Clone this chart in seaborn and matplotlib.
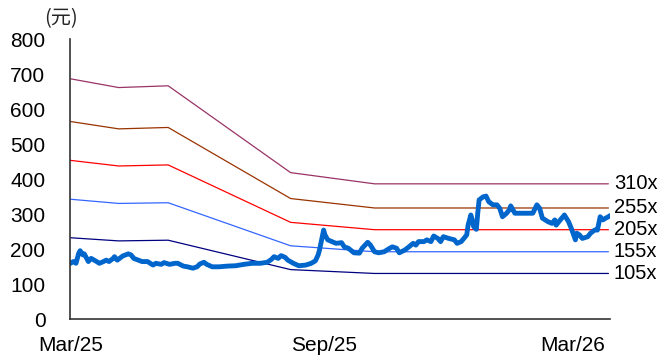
import matplotlib
matplotlib.use("Agg")
import matplotlib.pyplot as plt
import pandas as pd
import seaborn as sns

# Share price (CNY)
price_dates = [
    "2025-03-01", "2025-03-03", "2025-03-05", "2025-03-07", "2025-03-08", "2025-03-10",
    "2025-03-11", "2025-03-14", "2025-03-16", "2025-03-20", "2025-03-22", "2025-03-25",
    "2025-03-27", "2025-03-29", "2025-04-01", "2025-04-02", "2025-04-04", "2025-04-08",
    "2025-04-12", "2025-04-14", "2025-04-16", "2025-04-18", "2025-04-22", "2025-04-26",
    "2025-04-30", "2025-05-02", "2025-05-06", "2025-05-08", "2025-05-12", "2025-05-16",
    "2025-05-18", "2025-05-22", "2025-05-25", "2025-05-29", "2025-06-01", "2025-06-03",
    "2025-06-06", "2025-06-08", "2025-06-12", "2025-06-17", "2025-06-23", "2025-06-29",
    "2025-07-05", "2025-07-11", "2025-07-17", "2025-07-22", "2025-07-25", "2025-07-27",
    "2025-07-30", "2025-08-01", "2025-08-04", "2025-08-06", "2025-08-10", "2025-08-14",
    "2025-08-19", "2025-08-23", "2025-08-26", "2025-08-28", "2025-08-29", "2025-08-31",
    "2025-09-01", "2025-09-02", "2025-09-04", "2025-09-07", "2025-09-10", "2025-09-14",
    "2025-09-16", "2025-09-19", "2025-09-23", "2025-09-27", "2025-09-29", "2025-10-03",
    "2025-10-05", "2025-10-08", "2025-10-11", "2025-10-15", "2025-10-19", "2025-10-21",
    "2025-10-24", "2025-10-26", "2025-10-30", "2025-11-02", "2025-11-05", "2025-11-07",
    "2025-11-09", "2025-11-13", "2025-11-15", "2025-11-18", "2025-11-20", "2025-11-23",
    "2025-11-25", "2025-11-27", "2025-12-01", "2025-12-05", "2025-12-07", "2025-12-10",
    "2025-12-14", "2025-12-15", "2025-12-17", "2025-12-18", "2025-12-19", "2025-12-21",
    "2025-12-22", "2025-12-23", "2025-12-26", "2025-12-28", "2025-12-30", "2026-01-02",
    "2026-01-05", "2026-01-07", "2026-01-09", "2026-01-12", "2026-01-14", "2026-01-15",
    "2026-01-18", "2026-01-21", "2026-01-26", "2026-01-31", "2026-02-03", "2026-02-05",
    "2026-02-07", "2026-02-11", "2026-02-14", "2026-02-16", "2026-02-17", "2026-02-20",
    "2026-02-22", "2026-02-23", "2026-02-26", "2026-02-28", "2026-03-03", "2026-03-04",
    "2026-03-06", "2026-03-08", "2026-03-12", "2026-03-14", "2026-03-17", "2026-03-19",
    "2026-03-21", "2026-03-23", "2026-03-25", "2026-03-27", "2026-03-28",
]
price_values = [
    160, 165, 160, 189, 196, 184,
    187, 165, 174, 165, 160, 165,
    169, 165, 174, 179, 169, 181,
    187, 184, 174, 171, 165, 165,
    155, 160, 157, 162, 157, 160,
    160, 152, 150, 146, 150, 158,
    163, 157, 150, 150, 152, 153,
    157, 160, 160, 163, 171, 179,
    174, 182, 177, 169, 160, 153,
    155, 160, 167, 184, 198, 236,
    255, 241, 227, 222, 217, 219,
    207, 203, 190, 189, 203, 220,
    212, 193, 190, 193, 203, 207,
    203, 190, 198, 207, 217, 212,
    222, 222, 227, 222, 238, 231,
    222, 236, 231, 227, 217, 222,
    241, 269, 298, 284, 265, 257,
    303, 341, 350, 352, 336, 327,
    327, 317, 293, 303, 313, 324,
    303, 303, 303, 303, 327, 317,
    289, 279, 274, 284, 269, 284,
    293, 298, 279, 260, 227, 246,
    241, 231, 236, 246, 255, 255,
    293, 284, 289, 293, 296,
]

# P/E band lines
band_dates = ["2025-03-01", "2025-04-05", "2025-05-11", "2025-08-08", "2025-10-08", "2026-03-27"]
band_310x = [687, 662, 667, 419, 387, 387]
band_255x = [565, 544, 548, 345, 318, 318]
band_205x = [454, 438, 441, 277, 256, 256]
band_155x = [343, 331, 333, 210, 193, 193]
band_105x = [233, 224, 226, 142, 131, 131]
band_labels = ["310x", "255x", "205x", "155x", "105x"]
band_colors = ["#993366", "#993300", "#FF0000", "#3366FF", "#000080"]

x_tick_dates = ["2025-03-01", "2025-09-01", "2026-03-01"]
x_tick_labels = ["Mar/25", "Sep/25", "Mar/26"]
y_ticks = [0, 100, 200, 300, 400, 500, 600, 700, 800]

sns.set_style("white")
plt.rcParams["font.family"] = ["Liberation Sans", "Noto Sans CJK SC", "DejaVu Sans"]

band_series = [band_310x, band_255x, band_205x, band_155x, band_105x]
band_df = pd.concat(
    [
        pd.DataFrame({"date": pd.to_datetime(band_dates), "value": vals, "band": lab})
        for lab, vals in zip(band_labels, band_series)
    ],
    ignore_index=True,
)
price_df = pd.DataFrame({"date": pd.to_datetime(price_dates), "value": price_values})

fig = plt.figure(figsize=(6.65, 3.6), dpi=100)
ax = fig.add_axes([0.106, 0.113, 0.811, 0.778])

sns.lineplot(
    data=band_df, x="date", y="value", hue="band",
    palette=dict(zip(band_labels, band_colors)),
    linewidth=0.9, estimator=None, sort=False, legend=False, ax=ax,
)
sns.lineplot(
    data=price_df, x="date", y="value", color="#0066CC",
    linewidth=3.5, estimator=None, sort=False, legend=False, ax=ax,
    solid_capstyle="round", solid_joinstyle="round",
)

# Multiple labels at the right end of each band
end_date = pd.to_datetime(band_dates[-1])
for lab, vals in zip(band_labels, band_series):
    ax.annotate(lab, xy=(end_date, vals[-1]), xytext=(4, 0), textcoords="offset points",
                ha="left", va="center", fontsize=14.5, color="black",
                annotation_clip=False)

ax.set_xlim(pd.Timestamp("2025-03-01"), pd.Timestamp("2026-03-28"))
ax.set_ylim(0, 800)
ax.set_yticks(y_ticks)
ax.set_xticks(pd.to_datetime(x_tick_dates))
ax.set_xticklabels(x_tick_labels)
ax.set_xlabel("")
ax.set_ylabel("")

for side in ["top", "right"]:
    ax.spines[side].set_visible(False)
for side in ["left", "bottom"]:
    ax.spines[side].set_color("#333333")
    ax.spines[side].set_linewidth(1.2)

ax.tick_params(axis="both", direction="in", length=5, width=1, color="#333333",
               labelsize=15, labelcolor="black")
ax.tick_params(axis="y", pad=18)
ax.tick_params(axis="x", pad=12)

fig.text(0.092, 0.949, "(元)", ha="center", va="center", fontsize=14.5,
         family=["Noto Sans CJK SC", "DejaVu Sans"])

fig.savefig("out.png", dpi=100)
